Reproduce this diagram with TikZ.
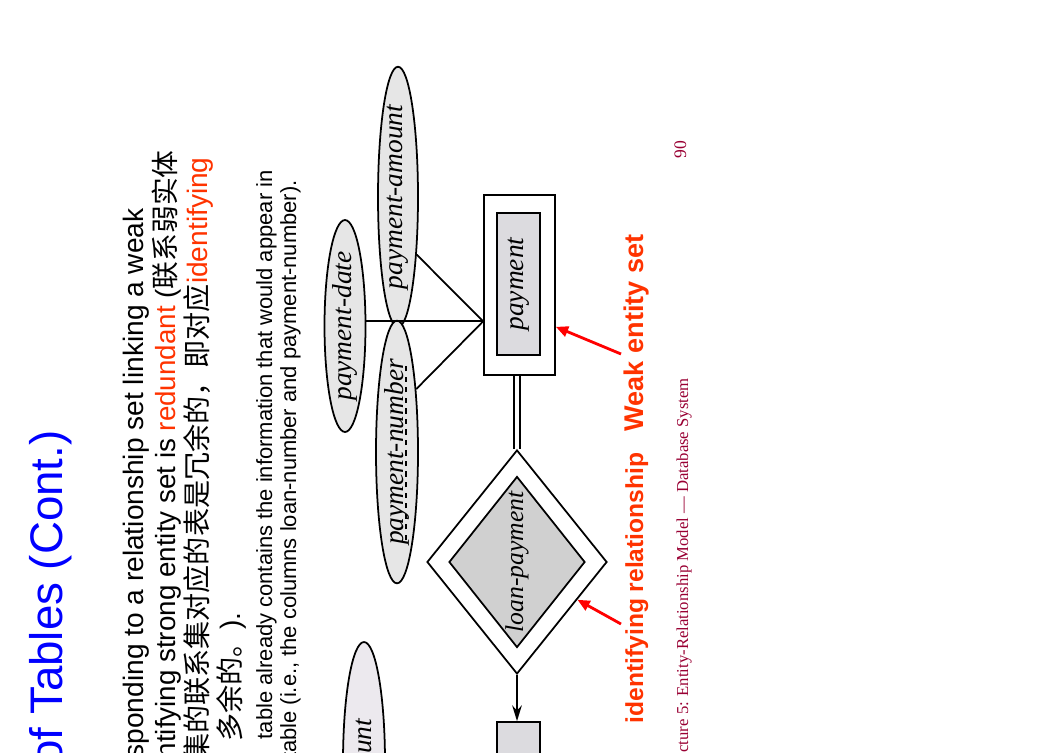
\documentclass[tikz,border=0pt]{standalone}
\usepackage{fontspec}
\setmainfont{Liberation Serif}
\setsansfont{Liberation Sans}
\newfontfamily\cjk{Noto Sans CJK SC}
\usetikzlibrary{shapes.geometric,arrows.meta,positioning,calc}

\definecolor{slideblue}{RGB}{0,0,255}
\definecolor{notered}{RGB}{255,51,0}
\definecolor{arrowred}{RGB}{255,0,0}
\definecolor{footred}{RGB}{153,0,51}
\definecolor{attrgray}{RGB}{230,230,230}
\definecolor{attrpale}{RGB}{236,233,238}
\definecolor{entgray}{RGB}{220,219,223}
\definecolor{relgray}{RGB}{208,208,208}

\begin{document}
\begin{tikzpicture}[
    x=0.02cm, y=-0.02cm,
    er/.style={font=\fontsize{15.6}{18}\selectfont\itshape, rotate=90, inner sep=0pt, line width=1pt},
    attr/.style={er, ellipse, draw, fill=attrgray},
    entity/.style={er, rectangle, draw},
    rel/.style={er, diamond, draw},
    slidetext/.style={font=\sffamily\fontsize{16}{19}\selectfont, rotate=90, inner sep=0pt, anchor=base east},
    smalltext/.style={slidetext, font=\sffamily\fontsize{12.5}{15}\selectfont},
    note/.style={font=\sffamily\bfseries\fontsize{15.4}{18}\selectfont, text=notered, rotate=90, inner sep=0pt, anchor=base},
    pointer/.style={-{Triangle[length=7pt,width=6pt]}, arrowred, line width=1.6pt},
    link/.style={line width=1pt}
]
    \useasboundingbox (0,0) rectangle (1054,753);
    \clip (0,0) rectangle (1054,753);

    % Slide text
    \node[rotate=90, inner sep=0pt, anchor=base east, font=\sffamily\fontsize{26}{30}\selectfont, text=slideblue] (title) at (62,430) {of Tables (Cont.)};
    \node[slidetext] (lineA) at (143,208) {sponding to a relationship set linking a weak};
    \node[slidetext, font=\sffamily\fontsize{15.8}{19}\selectfont] (lineB) at (175,150) {ntifying strong entity set is \textcolor{notered}{redundant} ({\cjk 联系弱实体}};
    \node[slidetext] (lineC) at (207,157) {{\cjk 集的联系集对应的表是冗余的，即对应}\textcolor{notered}{identifying}};
    \node[slidetext] (lineD) at (240,612) {{\cjk 多余的。}).};
    \node[smalltext] (lineE) at (272,170) {table already contains the information that would appear in};
    \node[smalltext] (lineF) at (296,180) {table (i.e., the columns loan-number and payment-number).};

    % Attributes
    \node[attr, minimum width=4.66cm, minimum height=0.8cm] (pamount) at (398,197) {payment-amount};
    \node[attr, minimum width=4.24cm, minimum height=0.82cm] (pdate) at (345,326) {payment-date};
    \node[attr, minimum width=4.34cm, minimum height=0.84cm] (pnumber) at (397,452) {payment-number};
    \node[attr, fill=attrpale, minimum width=4.8cm, minimum height=0.84cm] (lamount) at (364,762) {};
    \node[er, anchor=base east] (lamounttext) at (371,718) {unt};

    % Weak entity set and identifying relationship
    \node[entity, fill=white, minimum width=3.6cm, minimum height=1.42cm] (payout) at (519.5,285) {};
    \node[entity, fill=entgray, minimum width=2.84cm, minimum height=0.86cm] (payin) at (518.5,284) {payment};
    \node[rel, fill=white, minimum width=4.48cm, minimum height=3.6cm] (relout) at (517,562) {};
    \node[rel, fill=relgray, minimum width=3.42cm, minimum height=2.72cm, font=\fontsize{14.6}{17}\selectfont\itshape] (relin) at (517,562) {\makebox[0pt]{loan-payment}};
    \node[entity, fill=entgray, minimum width=2.84cm, minimum height=0.86cm] (loan) at (518.5,793) {};

    % Connectors
    \coordinate (hub) at ($(payout.north west)!0.6!(payout.north)$);
    \draw[link] (pamount.198) -- (hub);
    \draw[link] (pdate.south |- hub) -- (hub);
    \draw[link] (pnumber.343) -- (hub);
    \draw[link, dashed, line width=0.6pt] ([shift={(9,88)}]pnumber.center) -- ([shift={(9,-86)}]pnumber.center);
    \draw[line width=0.9pt, double, double distance=2.6pt] (relout.east |- payout.west) -- (relout.east);
    \draw[link, -{Stealth[length=9pt,width=5.5pt,inset=3pt]}] (relout.west) -- (relout.west |- loan.east);

    % Notes
    \node[note] (weaklabel) at (643,333) {Weak entity set};
    \node[note, font=\sffamily\bfseries\fontsize{14}{17}\selectfont] (identlabel) at (643,588) {identifying relationship};
    \coordinate (weaktail) at (621,354);
    \coordinate (identtail) at (621,624);
    \draw[pointer] (weaktail) -- (payout.221);
    \draw[pointer] (identtail) -- (relout.238);

    % Footer
    \node[rotate=90, inner sep=0pt, anchor=base east, font=\fontsize{9.5}{11}\selectfont, text=footred] (footer) at (688,378) {cture 5: Entity-Relationship Model — Database System};
    \node[rotate=90, inner sep=0pt, anchor=base, font=\fontsize{10}{12}\selectfont, text=footred] (pagenum) at (686,150) {90};
\end{tikzpicture}
\end{document}
